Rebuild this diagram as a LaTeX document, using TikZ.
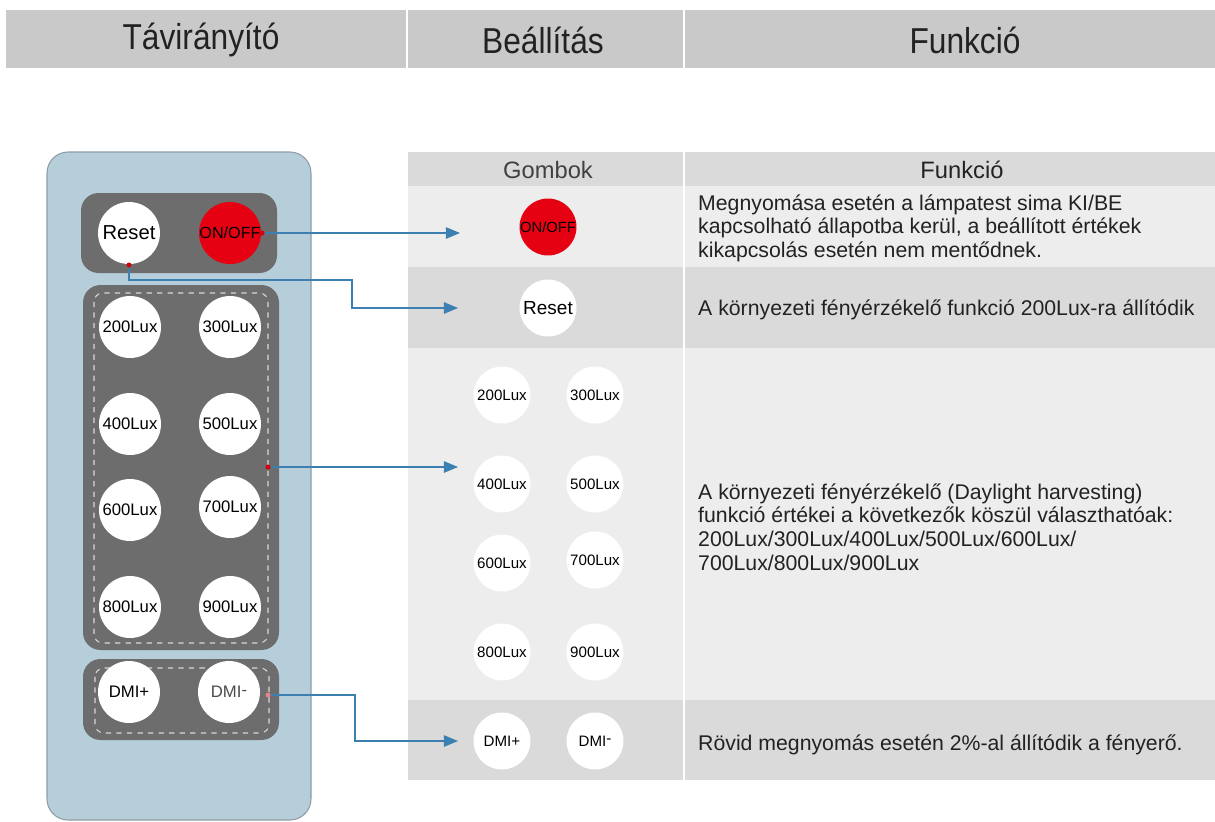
\documentclass[tikz,border=0pt]{standalone}
\usepackage{fontspec}
\setmainfont{Liberation Sans}
\newfontfamily\narrowsans[FakeStretch=0.88]{Liberation Sans}
\usetikzlibrary{arrows.meta}

\definecolor{hdrgray}{HTML}{C9C9C9}
\definecolor{rowdark}{HTML}{DADADA}
\definecolor{rowlight}{HTML}{EDEDED}
\definecolor{bodyblue}{HTML}{B6CDDA}
\definecolor{bodyedge}{HTML}{8E9CA6}
\definecolor{panelgray}{HTML}{6D6D6D}
\definecolor{seamgray}{HTML}{D8D8D8}
\definecolor{onred}{HTML}{E50012}
\definecolor{dotred}{HTML}{D7000F}
\definecolor{linkblue}{HTML}{3C7FB1}
\definecolor{textdark}{HTML}{222222}

\begin{document}
\begin{tikzpicture}[x=0.02cm,y=-0.02cm,
	panel/.style={fill=panelgray,rounded corners=10pt},
	seam/.style={draw=seamgray,dashed,line width=0.6pt,rounded corners=5pt},
	btn/.style={circle,fill=white,inner sep=0pt,minimum size=1.24cm,text=black,font=\fontsize{9.5}{11}\selectfont},
	onoff/.style={btn,fill=onred},
	tbtn/.style={btn,minimum size=1.14cm,font=\fontsize{8.6}{10}\selectfont},
	dot/.style={circle,fill=dotred,inner sep=0pt,minimum size=0.1cm},
	link/.style={draw=linkblue,line width=0.7pt,-{Triangle[length=8pt,width=6.5pt]}},
	hdr/.style={text=textdark,font=\narrowsans\fontsize{20.5}{24}\selectfont},
	thdr/.style={text=textdark,font=\fontsize{13.5}{16}\selectfont},
	desc/.style={anchor=west,align=left,text=textdark,font=\fontsize{12.1}{13.4}\selectfont}]
	\useasboundingbox (0,0) rectangle (1215,822);

	% header bar
	\fill[hdrgray] (6,10) rectangle (1215,68);
	\draw[white,line width=1pt] (407,10) -- (407,68) (684,10) -- (684,68);
	\node[hdr] (h1) at (201,40) {Távirányító};
	\node[hdr] (h2) at (543,40) {Beállítás};
	\node[hdr] (h3) at (965,40) {Funkció};

	% remote
	\draw[bodyedge,fill=bodyblue,line width=0.6pt,rounded corners=12pt] (47,152) rectangle (311,820);
	\fill[panel] (81,193) rectangle (277,273);
	\fill[panel] (83,285) rectangle (279,650);
	\draw[seam] (94,293) rectangle (268,643);
	\fill[panel] (83,659) rectangle (279,740);
	\draw[seam] (95,668) rectangle (269,733);

	\node[btn,font=\fontsize{11.5}{13}\selectfont] (rReset) at (129,233) {Reset};
	\node[onoff,font=\fontsize{9.2}{11}\selectfont] (rOnoff) at (230,233) {ON/OFF};
	\foreach \val/\x/\y in {200/130/327,300/230/327,400/130/424,500/230/424,
	                        600/130/510,700/230/507,800/130/607,900/230/607}
		\node[btn] (r\val) at (\x,\y) {\val Lux};
	\node[btn] (rDmiP) at (129,692) {DMI+};
	\node[btn,text=black!70] (rDmiM) at (229,692) {DMI\raisebox{0.3ex}{-}};

	% table
	\fill[rowdark] (408,152) rectangle (1215,186);
	\fill[rowlight] (408,186) rectangle (1215,267);
	\fill[rowdark] (408,267) rectangle (1215,348);
	\fill[rowlight!98!white] (408,348) rectangle (1215,700);
	\fill[rowdark] (408,700) rectangle (1215,780);
	\draw[white,line width=1pt] (684,152) -- (684,780);
	\node[thdr,text=black!75] (tGomb) at (548,170) {Gombok};
	\node[thdr] (tFunk) at (962,170) {Funkció};

	\node[tbtn,fill=onred,font=\fontsize{8.4}{10}\selectfont] (tOnoff) at (548,227) {ON/OFF};
	\node[tbtn,font=\fontsize{10.8}{12}\selectfont] (tReset) at (548,308) {Reset};
	\foreach \val/\x/\y in {200/502/395,300/595/395,400/502/484,500/595/484,
	                        600/502/563,700/595/560,800/502/652,900/595/652}
		\node[tbtn] (t\val) at (\x,\y) {\val Lux};
	\node[tbtn] (tDmiP) at (502,741) {DMI+};
	\node[tbtn] (tDmiM) at (595,741) {DMI\raisebox{0.3ex}{-}};

	\node[desc] (fOnoff) at (692,228) {Megnyomása esetén a lámpatest sima KI/BE\\
		kapcsolható állapotba kerül, a beállított értékek\\
		kikapcsolás esetén nem mentődnek.};
	\node[desc] (fReset) at (692,310) {A környezeti fényérzékelő funkció 200Lux-ra állítódik};
	\node[desc] (fLux) at (692,527) {A környezeti fényérzékelő (Daylight harvesting)\\
		funkció értékei a következők köszül választhatóak:\\
		200Lux/300Lux/400Lux/500Lux/600Lux/\\
		700Lux/800Lux/900Lux};
	\node[desc] (fDmi) at (692,745) {Rövid megnyomás esetén 2\%-al állítódik a fényerő.};

	% links
	\node[dot] (dOnoff) at (262,233) {};
	\node[dot] (dReset) at (129,265) {};
	\node[dot] (dLux) at (268,467) {};
	\node[dot,fill=dotred!50] (dDmi) at (268,695) {};
	\coordinate (aOnoff) at (460,233);
	\coordinate (aReset) at (458,308);
	\coordinate (aLux) at (458,467);
	\coordinate (aDmi) at (458,741);
	\draw[link] (dOnoff) -- (aOnoff);
	\draw[link] (dReset) |- (352,280) |- (aReset);
	\draw[link] (dLux) -- (aLux);
	\draw[link] (dDmi) -| (355,741) -- (aDmi);
\end{tikzpicture}
\end{document}
